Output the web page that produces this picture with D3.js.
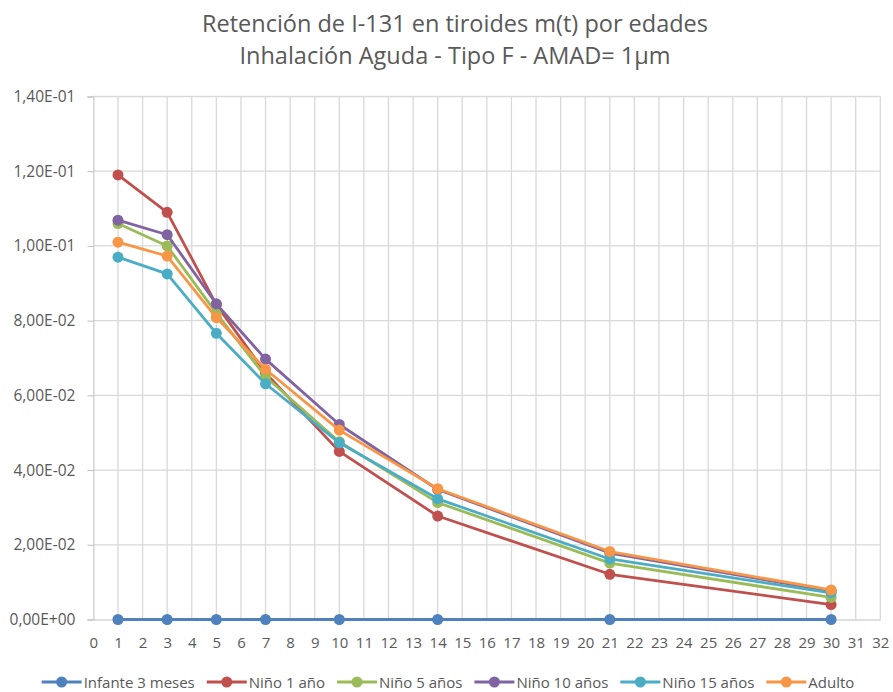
<!DOCTYPE html>
<html>
<head>
<meta charset="utf-8">
<script src="https://cdn.jsdelivr.net/npm/d3@7"></script>
<style>
  html, body { margin: 0; padding: 0; background: #fff; }
  svg { display: block; }
  text { font-family: "Open Sans", "Noto Sans", sans-serif; }
</style>
</head>
<body>
<svg id="chart" width="893" height="692"></svg>
<script>
const titleLines = ["Retención de I-131 en tiroides m(t) por edades", "Inhalación Aguda - Tipo F - AMAD= 1µm"];
const days = [1, 3, 5, 7, 10, 14, 21, 30];
const seriesNames = ["Infante 3 meses", "Niño 1 año", "Niño 5 años", "Niño 10 años", "Niño 15 años", "Adulto"];
const infante3m = [0, 0, 0, 0, 0, 0, 0, 0];
const nino1 = [0.1190, 0.1090, 0.0843, 0.0660, 0.0450, 0.0277, 0.0121, 0.0040];
const nino5 = [0.1060, 0.1000, 0.0820, 0.0650, 0.0476, 0.0313, 0.0151, 0.0059];
const nino10 = [0.1069, 0.1030, 0.0845, 0.0697, 0.0522, 0.0348, 0.0178, 0.0076];
const nino15 = [0.0970, 0.0925, 0.0766, 0.0631, 0.0473, 0.0323, 0.0162, 0.0071];
const adulto = [0.1010, 0.0973, 0.0808, 0.0670, 0.0507, 0.0350, 0.0182, 0.0079];
const seriesValues = [infante3m, nino1, nino5, nino10, nino15, adulto];
const colors = ["#4F81BD", "#C0504D", "#9BBB59", "#8064A2", "#4BACC6", "#F79646"];
const yTicks = [0, 0.02, 0.04, 0.06, 0.08, 0.10, 0.12, 0.14];
const yTickLabels = ["0,00E+00", "2,00E-02", "4,00E-02", "6,00E-02", "8,00E-02", "1,00E-01", "1,20E-01", "1,40E-01"];
const xTicks = d3.range(0, 33);

const svg = d3.select("#chart");
const x = d3.scaleLinear().domain([0, 32]).range([93.4, 880.3]);
const y = d3.scaleLinear().domain([0, 0.14]).range([619.5, 96.5]);
const textColor = "#595959";
const gridColor = "#d9d9d9";

// title
svg.append("g").selectAll("text").data(titleLines).join("text")
  .attr("x", 455).attr("y", (d, i) => 32 + i * 32)
  .attr("text-anchor", "middle")
  .attr("fill", textColor)
  .style("font-size", "23.5px")
  .text(d => d);

// gridlines
const grid = svg.append("g");
grid.selectAll("line.v").data(xTicks.slice(1)).join("line")
  .attr("x1", d => x(d)).attr("x2", d => x(d))
  .attr("y1", y(0.14)).attr("y2", y(0))
  .attr("stroke", gridColor).attr("stroke-width", 1.3);
grid.selectAll("line.h").data(yTicks.slice(1)).join("line")
  .attr("x1", x(0)).attr("x2", x(32))
  .attr("y1", d => y(d)).attr("y2", d => y(d))
  .attr("stroke", gridColor).attr("stroke-width", 1.3);

// axes
const yAxis = svg.append("g").attr("transform", `translate(${x(0)},0)`)
  .call(d3.axisLeft(y).tickValues(yTicks).tickFormat((d, i) => yTickLabels[i]).tickSize(6).tickPadding(12));
yAxis.select(".domain").attr("stroke", "#bfbfbf");
yAxis.selectAll(".tick line").attr("stroke", "#bfbfbf");
yAxis.selectAll(".tick text").attr("fill", textColor).style("font-size", "15.5px").style("font-family", "'Open Sans', sans-serif");

const xAxis = svg.append("g").attr("transform", `translate(0,${y(0)})`)
  .call(d3.axisBottom(x).tickValues(xTicks).tickFormat(d3.format("d")).tickSize(0).tickPadding(18));
xAxis.select(".domain").attr("stroke", "#bfbfbf");
xAxis.selectAll(".tick text").attr("fill", textColor).style("font-size", "15px").style("font-family", "'Open Sans', sans-serif");

// series
const line = d3.line().x((d, i) => x(days[i])).y(d => y(d));
seriesValues.forEach((vals, si) => {
  const g = svg.append("g");
  g.append("path").datum(vals)
    .attr("d", line)
    .attr("fill", "none")
    .attr("stroke", colors[si])
    .attr("stroke-width", 2.8)
    .attr("stroke-linejoin", "round");
  g.selectAll("circle").data(vals).join("circle")
    .attr("cx", (d, i) => x(days[i]))
    .attr("cy", d => y(d))
    .attr("r", 5.5)
    .attr("fill", colors[si]);
});

// legend
const legend = svg.append("g");
let cursor = 0;
const lineLen = 40, gap1 = 2, gap2 = 12;
seriesNames.forEach((name, i) => {
  const g = legend.append("g");
  g.append("line").attr("x1", 0).attr("x2", lineLen).attr("y1", 0).attr("y2", 0)
    .attr("stroke", colors[i]).attr("stroke-width", 2.8);
  g.append("circle").attr("cx", lineLen / 2).attr("cy", 0).attr("r", 5.5).attr("fill", colors[i]);
  const t = g.append("text").attr("x", lineLen + gap1).attr("y", 5.5)
    .attr("fill", textColor).style("font-size", "15px").text(name);
  const w = t.node().getComputedTextLength();
  g.attr("transform", `translate(${cursor},0)`);
  cursor += lineLen + gap1 + w + gap2;
});
const totalW = cursor - gap2;
legend.attr("transform", `translate(${448 - totalW / 2},682)`);
</script>
</body>
</html>
